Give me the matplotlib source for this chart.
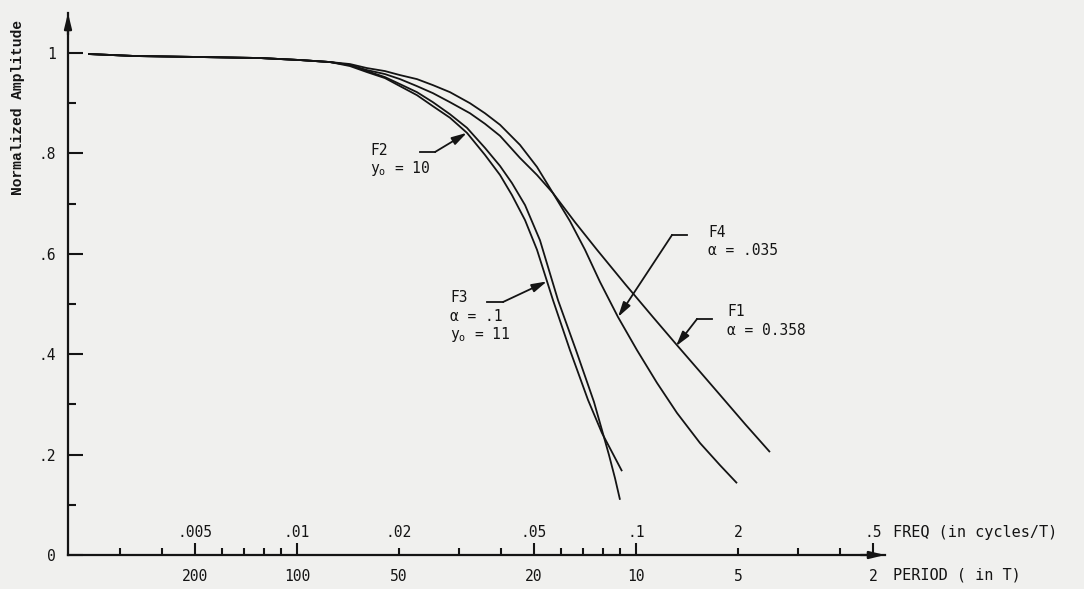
import matplotlib
matplotlib.use("Agg")
import matplotlib.pyplot as plt
from matplotlib.ticker import FixedLocator, FixedFormatter, FuncFormatter, NullFormatter

# frequency axis (cycles/T) with period labels underneath
freq_ticks = [0.005, 0.01, 0.05, 0.1, 0.5]
period_labels = ["200", "100", "20", "10", "2"]
freq_minor = [0.003, 0.004, 0.006, 0.007, 0.008, 0.009, 0.02, 0.03, 0.04,
              0.06, 0.07, 0.08, 0.09, 0.2, 0.3, 0.4]
minor_period = {0.02: "50", 0.2: "5"}
freq_text_pos = [0.005, 0.01, 0.02, 0.05, 0.1, 0.2, 0.5]
freq_text = [".005", ".01", ".02", ".05", ".1", "2", ".5"]

# curves: frequency vs normalized amplitude
start_freq = [0.00242, 0.00333, 0.00518, 0.00778, 0.0102]
start_amp = [0.998, 0.994, 0.992, 0.990, 0.986]

f4_freq = [0.01251, 0.01433, 0.01608, 0.01818, 0.02013, 0.02259, 0.02518, 0.02827,
           0.03238, 0.03585, 0.03971, 0.04547, 0.05105, 0.05689, 0.06387, 0.07073,
           0.07831, 0.0885, 0.1007, 0.1153, 0.1321, 0.1545, 0.1769, 0.1986]
f4_amp = [0.982, 0.978, 0.970, 0.964, 0.956, 0.948, 0.936, 0.922,
          0.900, 0.880, 0.857, 0.817, 0.773, 0.721, 0.665, 0.608,
          0.544, 0.474, 0.408, 0.343, 0.283, 0.223, 0.179, 0.143]

f1_freq = [0.01251, 0.01433, 0.01608, 0.01818, 0.02013, 0.02259, 0.02518, 0.02827,
           0.03238, 0.03585, 0.03971, 0.04547, 0.05105, 0.05689, 0.06608, 0.07673,
           0.09281, 0.1122, 0.1321, 0.1545, 0.1769, 0.2097, 0.2484]
f1_amp = [0.982, 0.976, 0.966, 0.958, 0.948, 0.934, 0.920, 0.902,
          0.880, 0.859, 0.835, 0.791, 0.757, 0.721, 0.663, 0.608,
          0.540, 0.474, 0.418, 0.365, 0.319, 0.261, 0.205]

f2_freq = [0.01251, 0.01433, 0.01608, 0.01818, 0.02013, 0.02259, 0.02518, 0.02827,
           0.03172, 0.03585, 0.03971, 0.04306, 0.04707, 0.05209, 0.05886, 0.06653,
           0.07517, 0.07936, 0.08326, 0.08672, 0.08971]
f2_amp = [0.982, 0.976, 0.964, 0.952, 0.938, 0.922, 0.902, 0.878,
          0.851, 0.811, 0.775, 0.741, 0.697, 0.627, 0.508, 0.408,
          0.305, 0.249, 0.199, 0.153, 0.110]

f3_freq = [0.01251, 0.01433, 0.01608, 0.01818, 0.02013, 0.02259, 0.02518, 0.02827,
           0.03172, 0.03585, 0.03971, 0.04306, 0.04707, 0.05105, 0.05689, 0.06387,
           0.07218, 0.07936, 0.08496, 0.09094]
f3_amp = [0.982, 0.974, 0.962, 0.950, 0.934, 0.916, 0.894, 0.871,
          0.841, 0.797, 0.757, 0.717, 0.667, 0.608, 0.508, 0.408,
          0.309, 0.243, 0.205, 0.167]

y_ticks = [0, 0.2, 0.4, 0.6, 0.8, 1.0]
y_labels = ["0", ".2", ".4", ".6", ".8", "1"]
y_minor = [0.1, 0.3, 0.5, 0.7, 0.9]

plt.rcParams["font.family"] = "DejaVu Sans Mono"
plt.rcParams["mathtext.fontset"] = "custom"
plt.rcParams["mathtext.rm"] = "DejaVu Sans Mono"
plt.rcParams["mathtext.it"] = "DejaVu Sans Mono"

bg = "#f0f0ee"
ink = "#141414"

fig = plt.figure(figsize=(10.84, 5.89), dpi=100, facecolor=bg)
ax = fig.add_axes([68 / 1084, 34 / 589, 817 / 1084, 542 / 589], facecolor=bg)

for fr, amp in [(f1_freq, f1_amp), (f4_freq, f4_amp), (f2_freq, f2_amp), (f3_freq, f3_amp)]:
    ax.plot(start_freq + fr, start_amp + amp, color=ink, lw=1.3,
            solid_joinstyle="round", solid_capstyle="butt")

ax.set_xscale("log")
ax.set_xlim(0.002111, 0.5427)
ax.set_ylim(0, 1.0797)

for s in ["top", "right"]:
    ax.spines[s].set_visible(False)
for s in ["left", "bottom"]:
    ax.spines[s].set_linewidth(1.6)
    ax.spines[s].set_color(ink)

ax.xaxis.set_major_locator(FixedLocator(freq_ticks))
ax.xaxis.set_major_formatter(FixedFormatter(period_labels))
ax.xaxis.set_minor_locator(FixedLocator(freq_minor))
ax.xaxis.set_minor_formatter(FuncFormatter(
    lambda v, p: next((lab for k, lab in minor_period.items() if abs(v - k) < 1e-9), "")))
ax.tick_params(axis="x", which="major", direction="in", length=8.5, width=1.5,
               pad=10, labelsize=10.5, colors=ink)
ax.tick_params(axis="x", which="minor", direction="in", length=5, width=1.5,
               pad=10, labelsize=10.5, colors=ink)

ax.yaxis.set_major_locator(FixedLocator(y_ticks))
ax.yaxis.set_major_formatter(FixedFormatter(y_labels))
ax.yaxis.set_minor_locator(FixedLocator(y_minor))
ax.yaxis.set_minor_formatter(NullFormatter())
ax.tick_params(axis="y", which="major", direction="in", length=11, width=1.5,
               pad=9, labelsize=10.5, colors=ink)
ax.tick_params(axis="y", which="minor", direction="in", length=6, width=1.5, colors=ink)

# frequency labels sit above the axis line
for x, lab in zip(freq_text_pos, freq_text):
    ax.text(x, 0.044, lab, ha="center", va="center", fontsize=10.5, color=ink)

# axis arrowheads
ax.annotate("", xy=(0, 1), xytext=(0, 0.96), xycoords="axes fraction",
            arrowprops=dict(arrowstyle="-|>,head_length=0.9,head_width=0.22",
                            color=ink, lw=1.6, shrinkA=0, shrinkB=0))
ax.annotate("", xy=(1, 0), xytext=(0.97, 0), xycoords="axes fraction",
            arrowprops=dict(arrowstyle="-|>,head_length=0.9,head_width=0.22",
                            color=ink, lw=1.6, shrinkA=0, shrinkB=0))

fig.text(893 / 1084, 1 - 533 / 589, "FREQ (in cycles/T)", ha="left", va="center",
         fontsize=11, color=ink)
fig.text(893 / 1084, 1 - 575 / 589, "PERIOD ( in T)", ha="left", va="center",
         fontsize=11, color=ink)
fig.text(18 / 1084, 1 - 107 / 589, "Normalized Amplitude", rotation=90,
         ha="center", va="center", fontsize=10.5, color=ink,
         family="Liberation Mono", weight="bold")

# curve labels with bent leader lines
tx = ax.transAxes
labels = [
    (["F2", r"y$_{\rm o}$ = 10"], (0.3696, 0.7472), 0.034,
     (0.4308, 0.4492, 0.7435), (0.0317, 0.841)),
    (["F3", "α = .1", r"y$_{\rm o}$ = 11"], (0.4675, 0.4742), 0.034,
     (0.5129, 0.5325, 0.4668), (0.0546, 0.545)),
    (["F4", "α = .035"], (0.7833, 0.5959), 0.034,
     (0.7576, 0.7393, 0.5904), (0.0885, 0.474)),
    (["F1", "α = 0.358"], (0.8066, 0.4484), 0.034,
     (0.7883, 0.7699, 0.4354), (0.1312, 0.416)),
]
for lines, (x0, y0), dy, (hx0, hx1, hy), tip in labels:
    for i, t in enumerate(lines):
        ax.text(x0, y0 - i * dy, t, transform=tx,
                ha="left", va="center", fontsize=10.5, color=ink)
    ax.plot([hx0, hx1], [hy, hy], transform=tx, color=ink, lw=1.3)
    ax.annotate("", xy=tip, xycoords="data", xytext=(hx1, hy), textcoords="axes fraction",
                arrowprops=dict(arrowstyle="-|>,head_length=0.9,head_width=0.25",
                                color=ink, lw=1.3, shrinkA=0, shrinkB=0))

fig.savefig("out.png", dpi=100, facecolor=bg)
